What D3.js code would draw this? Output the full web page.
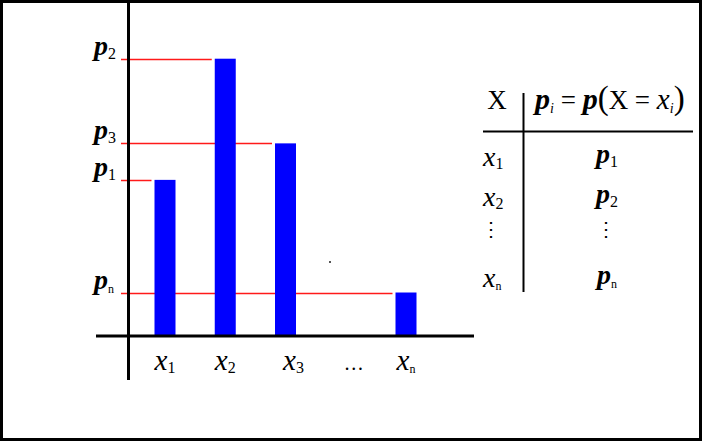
<!DOCTYPE html>
<html>
<head>
<meta charset="utf-8">
<script src="https://cdn.jsdelivr.net/npm/d3@7"></script>
<style>
  body { margin: 0; background: #fff; }
  svg text { font-family: "Liberation Serif", "Times New Roman", serif; fill: #000; }
</style>
</head>
<body>
<div id="chart"></div>
<script>
// subscripts of the x values, "…" is the gap column
const categories = ["1", "2", "3", "…", "n"];
// p_i = p(X = x_i)
const probs = [0.201, 0.357, 0.248, null, 0.056];
// rows of the little table on the right
const tableRows = ["1", "2", "⋮", "n"];

const W = 703, H = 443;
const svg = d3.select('#chart').append('svg')
  .attr('width', W)
  .attr('height', H);

// frame around everything
svg.append('rect')
  .attr('x', 1.5).attr('y', 1.5)
  .attr('width', 699).attr('height', 438)
  .attr('fill', 'none')
  .attr('stroke', '#000')
  .attr('stroke-width', 3);

var x = d3.scalePoint()
  .domain(categories)
  .range([165, 406]);

var y = d3.scaleLinear()
  .domain([0, 0.43])
  .range([336, 2]);

var barW = 21;
var axisX = 128.5;

var data = categories.map(function(c, i) { return {cat: c, p: probs[i]}; });
var withBars = data.filter(function(d) { return d.p !== null; });

// red guide lines from the y axis to each bar
svg.append('g').selectAll('line.guide')
  .data(withBars)
  .enter()
  .append('line')
  .attr('x1', 121)
  .attr('x2', function(d) { return x(d.cat) - barW / 2 - 3; })
  .attr('y1', function(d) { return Math.round(y(d.p)) + 0.5; })
  .attr('y2', function(d) { return Math.round(y(d.p)) + 0.5; })
  .attr('stroke', '#ff1a1a')
  .attr('stroke-width', 1.5);

// bars
svg.append('g').selectAll('rect.bar')
  .data(withBars)
  .enter()
  .append('rect')
  .attr('x', function(d) { return x(d.cat) - barW / 2; })
  .attr('width', barW)
  .attr('y', function(d) { return y(d.p); })
  .attr('height', function(d) { return y(0) - y(d.p); })
  .attr('fill', '#0000ff');

// axes
svg.append('line')
  .attr('x1', axisX).attr('x2', axisX)
  .attr('y1', 2).attr('y2', 380)
  .attr('stroke', '#000').attr('stroke-width', 3);
svg.append('line')
  .attr('x1', 96).attr('x2', 474)
  .attr('y1', y(0)).attr('y2', y(0))
  .attr('stroke', '#000').attr('stroke-width', 3);

// p labels on the y axis
var pLab = svg.append('g').selectAll('text.plab')
  .data(withBars)
  .enter()
  .append('text')
  .attr('x', 94)
  .attr('y', function(d) { return y(d.p) - 4; });
pLab.append('tspan')
  .style('font-weight', 'bold').style('font-style', 'italic')
  .style('font-size', '28px')
  .text('p');
pLab.append('tspan')
  .attr('dy', 4)
  .style('font-size', function(d) { return d.cat === 'n' ? '12px' : '16px'; })
  .text(function(d) { return d.cat; });

// x labels under the axis
var xLab = svg.append('g').selectAll('text.xlab')
  .data(data)
  .enter()
  .append('text')
  .attr('x', function(d) { return x(d.cat) + (d.cat === '3' ? 8 : 0); })
  .attr('y', 370)
  .attr('text-anchor', 'middle');
xLab.filter(function(d) { return d.p !== null; }).each(function(d) {
  var t = d3.select(this);
  t.append('tspan').style('font-style', 'italic').style('font-size', '29px').text('x');
  t.append('tspan').attr('dy', 3)
    .style('font-size', d.cat === 'n' ? '12px' : '16px')
    .text(d.cat);
});
xLab.filter(function(d) { return d.p === null; })
  .attr('x', function(d) { return x(d.cat) + 8; })
  .style('font-size', '20px')
  .text(function(d) { return d.cat; });

// stray pixel in the source picture
svg.append('rect').attr('x', 329).attr('y', 261).attr('width', 2).attr('height', 2).attr('fill', '#555');

// ---- table on the right ----
var tbl = svg.append('g');
tbl.append('line')
  .attr('x1', 523.5).attr('x2', 523.5).attr('y1', 93).attr('y2', 292)
  .attr('stroke', '#000').attr('stroke-width', 2);
tbl.append('line')
  .attr('x1', 483).attr('x2', 693).attr('y1', 131.5).attr('y2', 131.5)
  .attr('stroke', '#000').attr('stroke-width', 2);

tbl.append('text')
  .attr('x', 497).attr('y', 109)
  .attr('text-anchor', 'middle')
  .style('font-size', '27px')
  .text('X');

var hdr = tbl.append('text').attr('x', 535).attr('y', 109);
hdr.append('tspan').style('font-weight', 'bold').style('font-style', 'italic').style('font-size', '30px').text('p');
hdr.append('tspan').attr('dy', 4).style('font-style', 'italic').style('font-size', '14px').text('i');
hdr.append('tspan').attr('dy', -4).style('font-size', '27px').text(' = ');
hdr.append('tspan').style('font-weight', 'bold').style('font-style', 'italic').style('font-size', '30px').text('p');
hdr.append('tspan').style('font-size', '33px').text('(');
hdr.append('tspan').style('font-size', '27px').text('X = ');
hdr.append('tspan').style('font-style', 'italic').style('font-size', '29px').text('x');
hdr.append('tspan').attr('dy', 4).style('font-style', 'italic').style('font-size', '14px').text('i');
hdr.append('tspan').attr('dy', -4).style('font-size', '33px').text(')');

var rowY = d3.scalePoint().domain(tableRows).range([166, 287]);
tableRows.forEach(function(r) {
  var yy = rowY(r);
  if (r === '⋮') {
    [491, 606].forEach(function(cx) {
      tbl.append('text').attr('x', cx).attr('y', 236)
        .attr('text-anchor', 'middle')
        .style('font-family', 'DejaVu Serif')
        .style('font-size', '20px')
        .text('⋮');
    });
    return;
  }
  var tx = tbl.append('text').attr('x', 483).attr('y', yy);
  tx.append('tspan').style('font-style', 'italic').style('font-size', '28px').text('x');
  tx.append('tspan').attr('dy', 3).style('font-size', r === 'n' ? '12px' : '16px').text(r);
  var tp = tbl.append('text').attr('x', 607).attr('y', yy - 3).attr('text-anchor', 'middle');
  tp.append('tspan').style('font-weight', 'bold').style('font-style', 'italic').style('font-size', '28px').text('p');
  tp.append('tspan').attr('dy', 4).style('font-size', r === 'n' ? '12px' : '16px').text(r);
});
</script>
</body>
</html>
